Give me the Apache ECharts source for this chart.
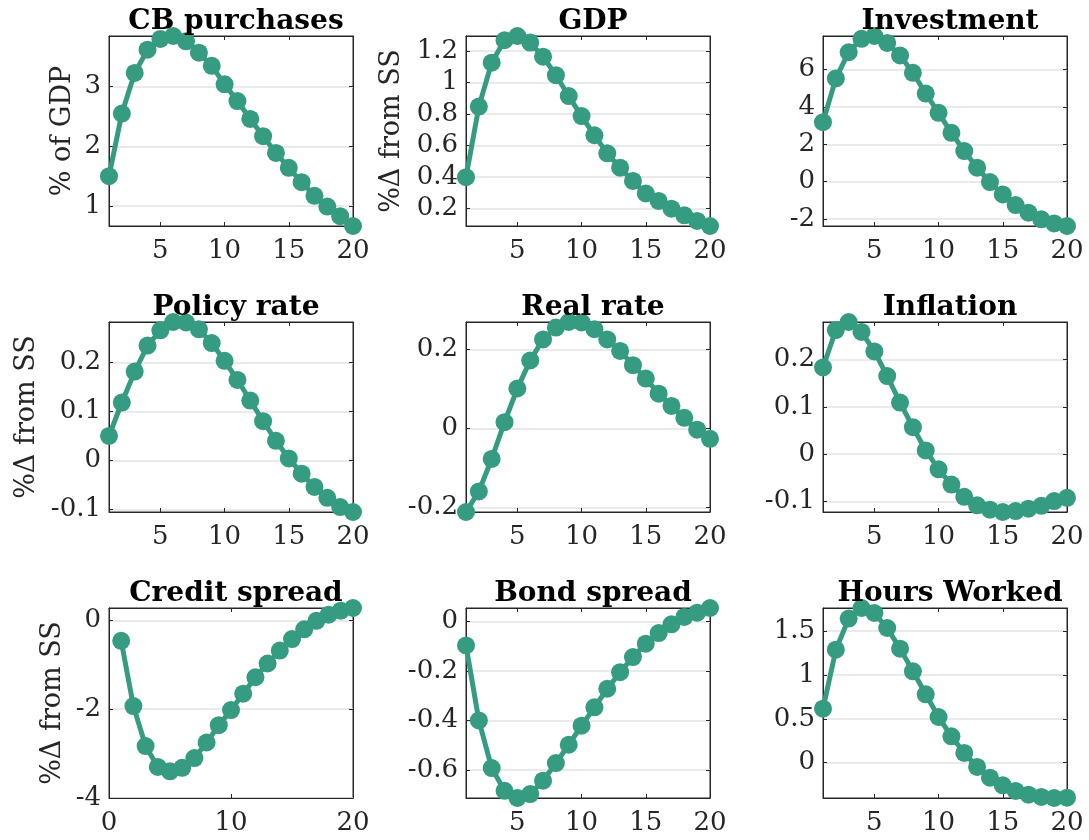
<!DOCTYPE html>
<html>
<head>
<meta charset="utf-8">
<script src="https://cdn.jsdelivr.net/npm/echarts@6/dist/echarts.min.js"></script>
<style>
  html, body { margin: 0; padding: 0; background: #ffffff; }
  #chart { width: 1089px; height: 840px; }
</style>
</head>
<body>
<div id="chart"></div>
<script>
// Impulse responses over 20 quarters
const periods = [1, 2, 3, 4, 5, 6, 7, 8, 9, 10, 11, 12, 13, 14, 15, 16, 17, 18, 19, 20];

const titles = ['CB purchases', 'GDP', 'Investment', 'Policy rate', 'Real rate', 'Inflation',
                'Credit spread', 'Bond spread', 'Hours Worked'];

const cbPurchases = [1.50, 2.55, 3.23, 3.62, 3.80, 3.85, 3.76, 3.57, 3.35, 3.04,
                     2.76, 2.46, 2.17, 1.89, 1.64, 1.40, 1.17, 0.99, 0.83, 0.665];
const gdp = [0.40, 0.848, 1.127, 1.269, 1.296, 1.254, 1.165, 1.047, 0.915, 0.788,
             0.666, 0.551, 0.460, 0.376, 0.297, 0.249, 0.200, 0.158, 0.122, 0.090];
const investment = [3.19, 5.53, 6.93, 7.65, 7.80, 7.43, 6.76, 5.83, 4.72, 3.69,
                    2.62, 1.64, 0.75, -0.02, -0.68, -1.25, -1.66, -2.01, -2.23, -2.37];
const policyRate = [0.050, 0.118, 0.181, 0.234, 0.265, 0.282, 0.281, 0.267, 0.239, 0.203,
                    0.164, 0.122, 0.080, 0.040, 0.004, -0.027, -0.054, -0.076, -0.095, -0.105];
const realRate = [-0.211, -0.159, -0.077, 0.016, 0.101, 0.172, 0.225, 0.255, 0.269, 0.268,
                  0.251, 0.225, 0.196, 0.160, 0.126, 0.088, 0.057, 0.027, -0.003, -0.026];
const inflation = [0.183, 0.262, 0.279, 0.258, 0.217, 0.165, 0.109, 0.057, 0.008, -0.032,
                   -0.064, -0.090, -0.108, -0.117, -0.122, -0.120, -0.115, -0.109, -0.099, -0.092];
const creditSpread = [-0.46, -1.93, -2.83, -3.30, -3.40, -3.32, -3.10, -2.75, -2.36, -2.02,
                      -1.65, -1.28, -0.97, -0.68, -0.42, -0.20, -0.01, 0.13, 0.22, 0.28];
const bondSpread = [-0.097, -0.400, -0.592, -0.684, -0.713, -0.697, -0.643, -0.572, -0.498, -0.421,
                    -0.347, -0.272, -0.205, -0.144, -0.090, -0.047, -0.012, 0.018, 0.035, 0.054];
const hoursWorked = [0.615, 1.287, 1.641, 1.762, 1.705, 1.534, 1.299, 1.041, 0.779, 0.520,
                     0.300, 0.110, -0.049, -0.171, -0.258, -0.323, -0.365, -0.391, -0.403, -0.399];

const seriesValues = [cbPurchases, gdp, investment, policyRate, realRate, inflation,
                      creditSpread, bondSpread, hoursWorked];

// Tick values for each panel
const yTicks = [
  [1, 2, 3],
  [0.2, 0.4, 0.6, 0.8, 1, 1.2],
  [-2, 0, 2, 4, 6],
  [-0.1, 0, 0.1, 0.2],
  [-0.2, 0, 0.2],
  [-0.1, 0, 0.1, 0.2],
  [-4, -2, 0],
  [-0.6, -0.4, -0.2, 0],
  [0, 0.5, 1, 1.5]
];
const xTicksDefault = [5, 10, 15, 20];
const xTicksCredit = [0, 10, 20];

const yNames = ['% of GDP', '%\u0394 from SS', '', '%\u0394 from SS', '', '', '%\u0394 from SS', '', ''];

// Layout of the 3x3 panel grid (pixels)
const colLeft = [109, 466, 823];
const rowTop = [36, 322, 608];
const boxW = 244;
const boxH = 190;
const nameGaps = [33, 61, 0, 69, 0, 0, 43, 0, 0];

const lineColor = '#359b81';
const axisColor = '#262626';
const serif = 'DejaVu Serif';

const grids = [], xAxes = [], yAxes = [], series = [], titleList = [];

seriesValues.forEach((vals, i) => {
  const r = Math.floor(i / 3), c = i % 3;
  grids.push({
    left: colLeft[c], top: rowTop[r], width: boxW, height: boxH,
    show: true, borderColor: axisColor, borderWidth: 1, backgroundColor: '#ffffff'
  });

  const isCredit = i === 6;
  const xMin = isCredit ? 0 : 1;
  const xTicks = isCredit ? xTicksCredit : xTicksDefault;
  let yMin = Math.min(...vals);
  const yMax = Math.max(...vals);
  if (isCredit) yMin = -4;

  const tickStyle = { show: true, inside: true, length: 4, lineStyle: { color: axisColor, width: 1 } };

  // bottom x axis with labels
  xAxes.push({
    type: 'value', gridIndex: i, position: 'bottom', min: xMin, max: 20,
    axisLine: { show: true, onZero: false, lineStyle: { color: axisColor, width: 1 } },
    axisTick: Object.assign({ customValues: xTicks }, tickStyle),
    axisLabel: { customValues: xTicks, color: axisColor, fontFamily: serif, fontSize: 26, margin: 12 },
    splitLine: { show: false }
  });
  // top mirror
  xAxes.push({
    type: 'value', gridIndex: i, position: 'top', min: xMin, max: 20,
    axisLine: { show: true, onZero: false, lineStyle: { color: axisColor, width: 1 } },
    axisTick: Object.assign({ customValues: xTicks }, tickStyle),
    axisLabel: { show: false },
    splitLine: { show: false }
  });
  // left y axis with labels and grid lines
  yAxes.push({
    type: 'value', gridIndex: i, position: 'left', min: yMin, max: yMax,
    name: yNames[i], nameLocation: 'middle', nameGap: nameGaps[i],
    nameTextStyle: { color: axisColor, fontFamily: serif, fontSize: 27 },
    axisLine: { show: true, onZero: false, lineStyle: { color: axisColor, width: 1 } },
    axisTick: Object.assign({ customValues: yTicks[i] }, tickStyle),
    axisLabel: { customValues: yTicks[i], color: axisColor, fontFamily: serif, fontSize: 26, margin: 8 },
    splitLine: { show: true, lineStyle: { color: '#e3e3e3', width: 1.5 } }
  });
  // right mirror
  yAxes.push({
    type: 'value', gridIndex: i, position: 'right', min: yMin, max: yMax,
    axisLine: { show: true, onZero: false, lineStyle: { color: axisColor, width: 1 } },
    axisTick: Object.assign({ customValues: yTicks[i] }, tickStyle),
    axisLabel: { show: false },
    splitLine: { show: false }
  });

  series.push({
    type: 'line', xAxisIndex: 2 * i, yAxisIndex: 2 * i,
    data: periods.map((p, k) => [p, vals[k]]),
    clip: false,
    symbol: 'circle', symbolSize: 18,
    itemStyle: { color: lineColor },
    lineStyle: { color: lineColor, width: 5 },
    z: 5
  });

  titleList.push({
    text: titles[i],
    left: colLeft[c] + boxW / 2, top: rowTop[r] - 33,
    textAlign: 'center',
    textStyle: { color: '#000000', fontFamily: serif, fontWeight: 'bold', fontSize: 28 }
  });
});

const chart = echarts.init(document.getElementById('chart'), null, { renderer: 'canvas' });
chart.setOption({
  animation: false,
  backgroundColor: '#ffffff',
  title: titleList,
  grid: grids,
  xAxis: xAxes,
  yAxis: yAxes,
  series: series
});
</script>
</body>
</html>
